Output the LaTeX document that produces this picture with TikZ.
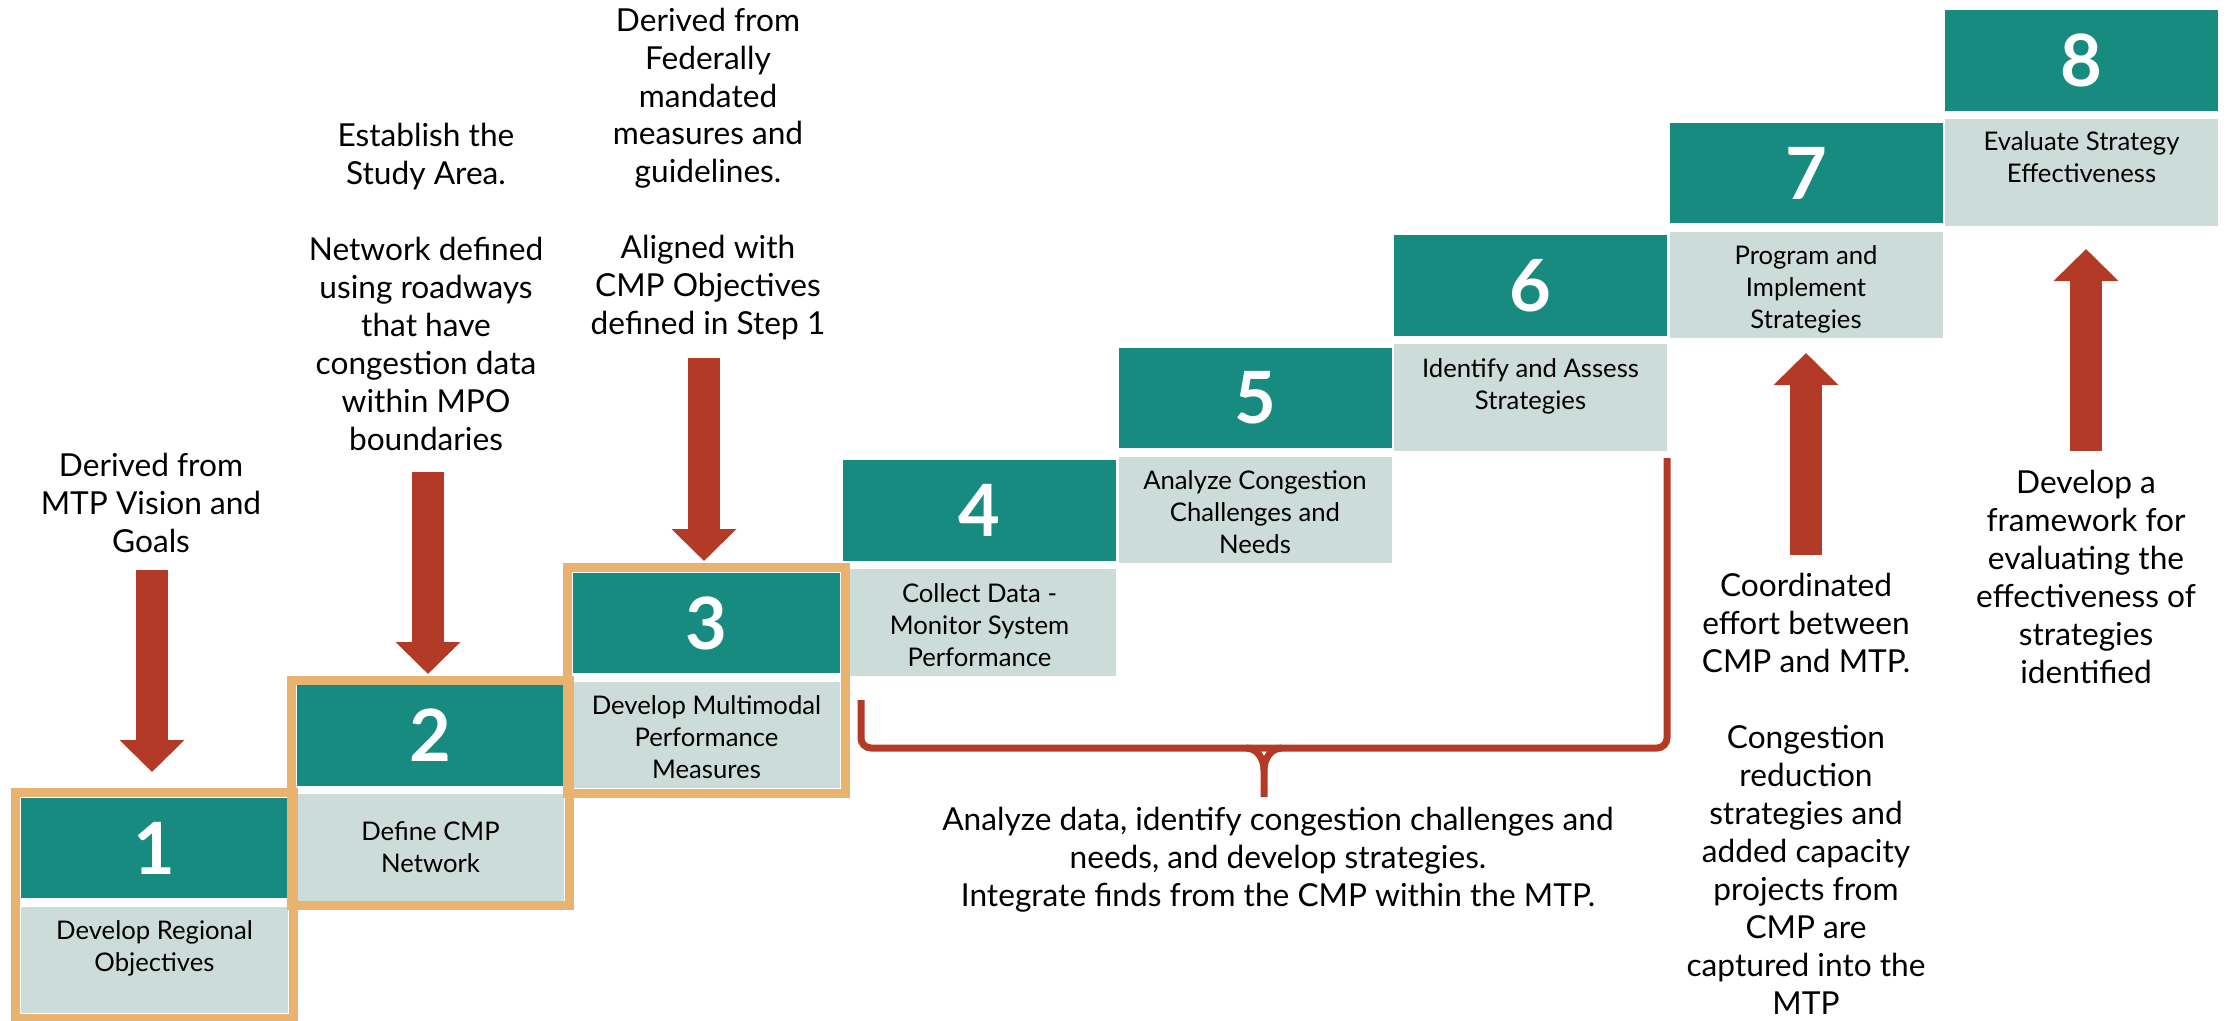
\documentclass[tikz,border=0pt]{standalone}
\usepackage{fontspec}
\setmainfont{Lato}
\usetikzlibrary{arrows.meta,calc,positioning}
\definecolor{stepteal}{HTML}{188B80}
\definecolor{stepgrey}{HTML}{CCDCD8}
\definecolor{steporange}{HTML}{E9B36F}
\definecolor{arrowred}{HTML}{B33A26}
\tikzset{
  numbox/.style={fill=stepteal, minimum height=1cm, inner sep=0pt,
    text=white, font=\bfseries\fontsize{20.5}{24}\selectfont},
  descbox/.style={fill=stepgrey, minimum height=1.06cm, inner sep=0pt},
  desctext/.style={align=center, inner sep=0pt, font=\fontsize{7.3}{9.1}\selectfont},
  sidenote/.style={align=center, inner sep=0pt, font=\fontsize{9}{10.8}\selectfont},
  orangeframe/.style={draw=steporange, line width=0.09cm},
  bigarrow/.style={draw=arrowred, line width=0.32cm, -{Triangle[width=0.63cm,length=0.32cm]}},
  bracket/.style={draw=arrowred, line width=0.07cm}
}
\begin{document}
\begin{tikzpicture}[x=0.01cm, y=-0.01cm]
\useasboundingbox (0,0) rectangle (2228,1020);
\foreach \i/\dy/\txt in {1/0.14cm/{Develop Regional\\Objectives},
  2/0.27cm/{Define CMP\\Network},
  3/0.14cm/{Develop Multimodal\\Performance\\Measures},
  4/0.14cm/{Collect Data -\\Monitor System\\Performance},
  5/0.14cm/{Analyze Congestion\\Challenges and\\Needs},
  6/0.14cm/{Identify and Assess\\Strategies},
  7/0.14cm/{Program and\\Implement\\Strategies},
  8/0.12cm/{Evaluate Strategy\\Effectiveness}} {
  \pgfmathsetmacro\bw{\i<4 ? 267 : 273}
  \pgfmathsetmacro\lx{\i<4 ? 21+276*(\i-1) : 843+275.5*(\i-4)}
  \pgfmathsetmacro\px{\lx+\bw/2}
  \pgfmathsetmacro\py{848-112.5*(\i-1)}
  \node[numbox, minimum width=\bw*0.01cm] (n\i) at (\px,\py) {\i};
  \node[descbox, minimum width=\bw*0.01cm] (d\i) at (\px,\py+112) {};
  \node[desctext, below=\dy of d\i.north] (l\i) {\txt};
}
\foreach \i in {1,2,3}
  \draw[orangeframe] ($(n\i.north west)+(-4.5,-4.5)$) rectangle ($(d\i.south east)+(4.5,4.5)$);

\node[sidenote] (t1) at (151,503) {Derived from\\MTP Vision and\\Goals};
\node[sidenote] (t2) at (426,287) {Establish the\\Study Area.\\[10.8pt]Network defined\\using roadways\\that have\\congestion data\\within MPO\\boundaries};
\node[sidenote] (t3) at (708,174) {Derived from\\Federally\\mandated\\measures and\\guidelines.\\[10.8pt]Aligned with\\CMP Objectives\\defined in Step 1};
\node[sidenote] (t7) at (1806,794) {Coordinated\\effort between\\CMP and MTP.\\[10.8pt]Congestion\\reduction\\strategies and\\added capacity\\projects from\\CMP are\\captured into the\\MTP};
\node[sidenote] (t8) at (2086,577) {Develop a\\framework for\\evaluating the\\effectiveness of\\strategies\\identified};
\node[sidenote] (tb) at (1278,860) {Analyze data, identify congestion challenges and\\needs, and develop strategies.\\Integrate finds from the CMP within the MTP.};

\coordinate (a1) at (152,570); \coordinate (b1) at (152,772);
\coordinate (a2) at (428,472); \coordinate (b2) at (428,674);
\coordinate (a3) at (704,358); \coordinate (b3) at (704,561);
\coordinate (a7) at (1806,555); \coordinate (b7) at (1806,353);
\coordinate (a8) at (2086,451); \coordinate (b8) at (2086,249);
\foreach \k in {1,2,3,7,8}
  \draw[bigarrow] (a\k) -- (b\k);

\draw[bracket, rounded corners=0.1cm] (861,700) -- (861,748) -- (1667,748) -- (1667,458);
\draw[bracket] (1246,748) to[out=0,in=90] (1264,770) -- (1264,797);
\draw[bracket] (1282,748) to[out=180,in=90] (1264,770);
\end{tikzpicture}
\end{document}
